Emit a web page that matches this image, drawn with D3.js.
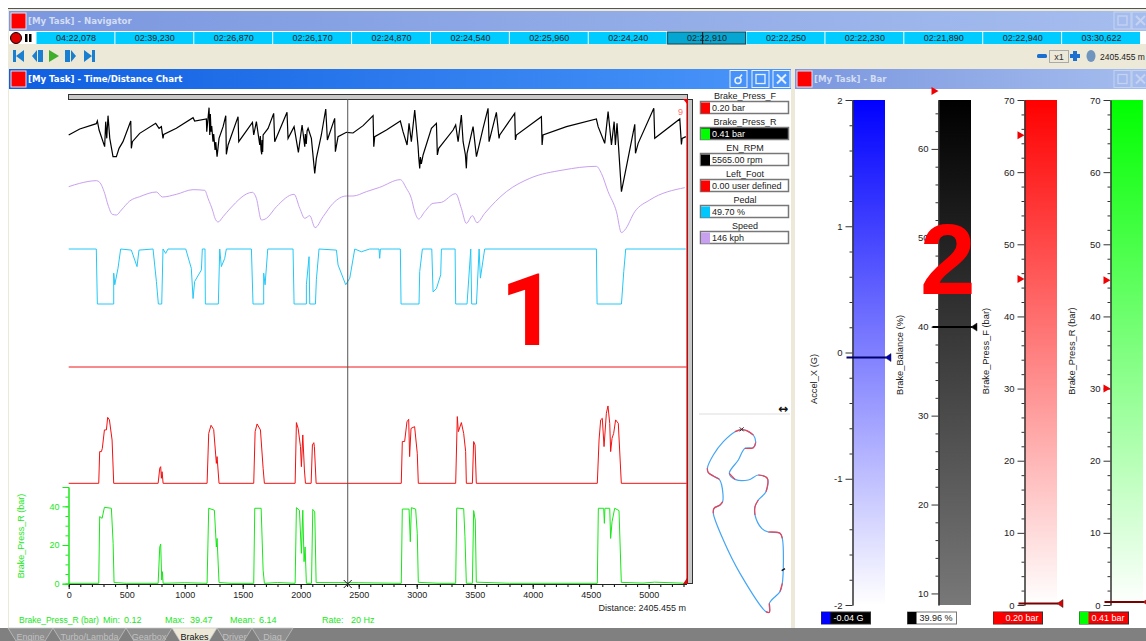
<!DOCTYPE html>
<html>
<head>
<meta charset="utf-8">
<title>Time/Distance Chart</title>
<script src="https://cdn.jsdelivr.net/npm/d3@7/dist/d3.min.js"></script>
<style>
html, body { margin: 0; padding: 0; background: #fff; overflow: hidden; }
text { font-family: "Liberation Sans", Arial, sans-serif; }
</style>
</head>
<body>
<div id="canvas"></div>
<script>
"use strict"

let drawingWidth = 1146;
let drawingHeight = 641;

/* Values: [distance m, channel value] */
let rpmTrace = [[0,5450],[95,5750],[238,6017],[247,6150],[262,5700],[310,4866],[319,6117],[328,5283],[339,6417],[354,5283],[382,4366],[411,4366],[434,4783],[468,5116],[535,6150],[540,4783],[549,5116],[612,5533],[750,6033],[779,5783],[799,5867],[813,5283],[819,5483],[928,5783],[1072,6317],[1086,6150],[1187,6250],[1190,5617],[1210,6817],[1216,5450],[1221,6500],[1227,5617],[1233,5900],[1244,5116],[1250,5500],[1262,4700],[1268,5100],[1279,4366],[1296,5283],[1331,5867],[1354,6417],[1359,4483],[1374,4950],[1460,6367],[1466,5116],[1584,6083],[1595,5450],[1618,6117],[1647,4950],[1652,5400],[1658,4700],[1664,4483],[1667,5200],[1672,4600],[1676,5450],[1719,5783],[1767,6533],[1776,5116],[1882,6583],[1891,5283],[1943,5867],[1980,4583],[2012,5950],[2035,4866],[2040,5500],[2048,5000],[2055,5650],[2064,5783],[2092,5283],[2121,3533],[2135,4283],[2178,5450],[2216,6750],[2230,5200],[2293,6283],[2299,4616],[2322,5367],[2394,5583],[2451,5550],[2538,5917],[2624,6417],[2630,4866],[2638,5367],[2739,5700],[2859,6150],[2882,5617],[2917,4950],[2934,6033],[2954,5116],[2983,6700],[3012,4866],[3018,4300],[3026,3783],[3032,4350],[3040,4000],[3055,4450],[3127,5783],[3170,6033],[3178,4450],[3190,4783],[3314,5700],[3336,5950],[3357,5116],[3385,6450],[3400,5116],[3420,4450],[3428,3783],[3434,4533],[3486,5867],[3515,4366],[3572,5783],[3615,6783],[3624,5116],[3687,6583],[3710,5283],[3716,5450],[3845,6533],[3851,5200],[3860,5450],[4075,6367],[4081,4950],[4089,5450],[4291,5867],[4549,6250],[4564,5867],[4621,5033],[4650,6617],[4679,4950],[4702,6117],[4713,4950],[4727,6033],[4765,2617],[4808,3866],[4880,5983],[4886,4533],[4909,5033],[5044,6783],[5052,5283],[5268,6250],[5282,4983],[5288,5283],[5320,5367]];

let speedTrace = [[0,160],[95,165],[238,169],[267,166.5],[310,150],[339,132.5],[376,118.5],[411,117.5],[454,125],[526,138.5],[612,145],[756,152],[808,144.5],[928,148.5],[1072,155.5],[1173,154.5],[1201,142.5],[1244,122.5],[1259,113.5],[1288,107],[1331,115],[1388,126.5],[1584,151.5],[1618,142.5],[1661,110],[1704,112.5],[1791,130],[1943,148.5],[1992,127.5],[2035,112.5],[2078,116.5],[2124,98.5],[2193,115],[2279,135],[2394,146],[2451,146],[2566,152.5],[2681,159],[2859,170.5],[2911,157.5],[2954,142.5],[2983,122.5],[3017,111.5],[3069,122.5],[3141,135],[3213,136.5],[3336,149.5],[3385,127.5],[3428,105],[3480,116.5],[3520,106],[3586,120],[3773,152.5],[3975,172.5],[4262,185],[4549,190.5],[4592,180],[4650,152.5],[4722,122.5],[4765,91],[4794,95],[4880,122.5],[5009,140],[5311,158.5]];

let pedalTrace = [[0,100],[238,100],[247,0],[388,0],[388,56],[397,35],[425,65],[448,100],[540,98],[589,68],[606,98],[727,100],[756,41],[773,0],[802,0],[813,100],[836,92],[856,100],[1009,100],[1057,65],[1072,10],[1086,41],[1144,62],[1152,100],[1175,100],[1178,0],[1290,0],[1302,100],[1316,68],[1345,83],[1359,100],[1575,100],[1589,0],[1681,0],[1681,56],[1693,35],[1716,100],[1934,100],[1943,0],[2049,0],[2049,35],[2072,86],[2078,0],[2127,0],[2135,44],[2158,100],[2308,98],[2322,71],[2388,35],[2423,47],[2466,100],[2523,95],[2595,100],[2675,100],[2681,83],[2687,100],[2859,100],[2865,0],[3020,0],[3026,59],[3049,100],[3130,100],[3141,22],[3170,28],[3207,53],[3213,100],[3331,100],[3336,0],[3434,0],[3466,100],[3474,0],[3515,0],[3538,100],[3549,47],[3586,100],[4549,100],[4555,0],[4765,0],[4785,59],[4802,100],[5320,100]];

let footTrace = [[0,0],[5327,0]];

let frontTrace = [[0,0.2],[259,0.2],[267,16.6],[282,16.6],[290,18.3],[308,27.8],[325,27.8],[336,34.3],[351,33],[374,22.6],[388,0.2],[771,0.2],[785,8],[793,8.8],[799,2.8],[805,6.2],[814,0.2],[1193,0.2],[1207,26],[1227,30.2],[1250,28],[1273,10.5],[1279,14],[1296,0.2],[1595,0.2],[1607,26.9],[1624,30.9],[1653,27.8],[1676,8],[1687,0.2],[1952,0.2],[1963,31.6],[1978,28.6],[1998,19.2],[2006,8.8],[2018,25.2],[2032,7.1],[2041,0.2],[2090,0.2],[2101,20],[2113,21.2],[2118,19.2],[2133,0.2],[2867,0.2],[2876,21.8],[2896,21.8],[2916,32],[2931,33.3],[2939,14],[2951,28.6],[2982,29.5],[3005,15.7],[3014,0.2],[3336,0.2],[3350,34.7],[3359,26.9],[3385,31.6],[3405,26],[3422,16.6],[3428,0.2],[3480,0.2],[3491,21.8],[3503,20],[3514,0.2],[4557,0.2],[4572,22.6],[4586,33],[4600,33.8],[4615,19.2],[4635,36.4],[4649,40.2],[4664,31.2],[4672,16.6],[4684,23.5],[4698,26],[4715,33],[4738,31.2],[4764,0.2],[5327,0.2]];

let rearTrace = [[0,0.2],[259,0.2],[267,34.7],[288,33.8],[308,39.5],[368,39],[383,20.9],[391,0.6],[500,0.2],[771,0.2],[785,19],[793,20.5],[802,1.9],[808,6.2],[814,0.2],[1000,0.5],[1193,0.2],[1207,39],[1256,38],[1273,19],[1279,23.4],[1296,0.6],[1400,0.2],[1595,0.2],[1604,39],[1659,39],[1676,7],[1687,0.2],[1800,0.6],[1952,0.2],[1963,39.3],[1989,38],[2006,15.7],[2018,38],[2029,11.4],[2038,19],[2049,0.2],[2093,0.2],[2104,38.4],[2121,37.2],[2133,0.6],[2500,0.5],[2867,0.2],[2876,38.6],[2934,38.6],[2945,21.7],[2954,39.3],[2991,38.6],[3005,26],[3014,0.7],[3200,0.2],[3336,0.2],[3345,39.1],[3405,38.8],[3416,24.3],[3428,0.2],[3480,0.2],[3491,37.8],[3505,32.9],[3514,0.8],[3800,0.2],[4557,0.2],[4566,39],[4612,39],[4618,31.2],[4623,39],[4664,39],[4672,23.4],[4684,32],[4707,39],[4744,37.8],[4764,0.7],[4950,0.3],[5050,0.8],[5327,0.2]];

/* legend rows */
let legendNames = ["Brake_Press_F", "Brake_Press_R", "EN_RPM", "Left_Foot", "Pedal", "Speed"];
let legendValues = ["0.20 bar", "0.41 bar", "5565.00 rpm", "0.00 user defined", "49.70 %", "146 kph"];
let legendColors = ["#ff0000", "#00ff00", "#000000", "#ff0000", "#00c8ff", "#c8a0f0"];

/* navigator lap times */
let lapTimes = ["04:22,078", "02:39,230", "02:26,870", "02:26,170", "02:24,870", "02:24,540", "02:25,960", "02:24,240", "02:22,910", "02:22,250", "02:22,230", "02:21,890", "02:22,940", "03:30,622"];
let activeLap = 8;

/* track map: x, y in map units, brake flag from point to next point */
let trackX = [155,135,100,70,52,55,70,88,95,98,90,72,70,100,150,228,238,238,245,270,277,277,270,235,215,195,195,205,228,232,205,175,135,118,145,165,190,197,190,170,155];
let trackY = [88,95,125,165,205,218,228,238,255,305,315,325,340,420,520,635,637,610,600,575,550,415,400,396,385,345,320,300,275,235,225,240,238,220,180,145,143,128,105,92,88];
let trackBrake = [1,0,0,0,1,1,1,0,0,1,1,1,0,0,0,1,1,0,0,1,0,1,1,0,0,1,1,0,1,1,0,0,1,0,0,1,1,0,1,1];

/* bar panel */
let barNames = ["Accel_X (G)", "Brake_Balance (%)", "Brake_Press_F (bar)", "Brake_Press_R (bar)"];
let barValues = [-0.04, 39.96, 0.20, 0.41];
let barLabels = ["-0.04 G", "39.96 %", "0.20 bar", "0.41 bar"];
let barColors = ["#0000ff", "#000000", "#ff0000", "#00ff00"];
let barEndColors = ["#ffffff", "#787878", "#ffffff", "#ffffff"];
let barMins = [-2, 8.7, 0, 0];
let barMaxs = [2, 65.5, 70, 70];
let barMajorTicks = [[-2,-1,0,1,2], [10,20,30,40,50,60], [0,10,20,30,40,50,60,70], [0,10,20,30,40,50,60,70]];
let barMinorTicks = [
    [-1.8,-1.6,-1.4,-1.2,-0.8,-0.6,-0.4,-0.2,0.2,0.4,0.6,0.8,1.2,1.4,1.6,1.8],
    [12,14,16,18,22,24,26,28,32,34,36,38,42,44,46,48,52,54,56,58,62,64],
    [2,4,6,8,12,14,16,18,22,24,26,28,32,34,36,38,42,44,46,48,52,54,56,58,62,64,66,68],
    [2,4,6,8,12,14,16,18,22,24,26,28,32,34,36,38,42,44,46,48,52,54,56,58,62,64,66,68]
];
let barLimitMarks = [[], [66.5], [65.1, 45.2], [45, 30]];
let barTitleCenters = [379, 355, 351, 351];

let tabNames = ["Engine", "Turbo/Lambda", "Gearbox", "Brakes", "Driver", "Diag"];
let tabStart = [8, 53, 126, 172, 217, 252];
let tabEnd = [53, 126, 172, 217, 252, 293];
let activeTab = 3;

/* Scales */
let distanceScale = d3.scaleLinear().domain([0, 5000]).range([68.7, 648.7]);
let rpmScale = d3.scaleLinear().domain([2500, 7000]).range([194, 104]);
let speedScale = d3.scaleLinear().domain([80, 200]).range([240, 160]);
let pedalScale = d3.scaleLinear().domain([0, 100]).range([304, 249]);
let footScale = d3.scaleLinear().domain([0, 1]).range([367, 347]);
let frontScale = d3.scaleLinear().domain([0, 50]).range([483.7, 387]);
let rearScale = d3.scaleLinear().domain([0, 50]).range([583.7, 487]);

let drawing = d3.select("#canvas")
    .append("svg")
    .attr("width", drawingWidth)
    .attr("height", drawingHeight)
    .style("display", "block");

let defs = drawing.append("defs");

function addGradient(id, x2, y2, from, to) {
    let gradient = defs.append("linearGradient").attr("id", id)
        .attr("x1", 0).attr("y1", 0).attr("x2", x2).attr("y2", y2);
    gradient.append("stop").attr("offset", "0%").attr("stop-color", from);
    gradient.append("stop").attr("offset", "100%").attr("stop-color", to);
}

addGradient("titleActive", 1, 0, "#0f5ee0", "#4a96fa");
addGradient("titleIdle", 1, 0, "#7b97df", "#a5bdee");
barColors.forEach((c, i) => addGradient("bar" + i, 0, 1, c, barEndColors[i]));

/* window background */
drawing.append("rect").attr("width", drawingWidth).attr("height", drawingHeight).attr("fill", "#ffffff");
drawing.append("rect").attr("x", 8).attr("y", 9).attr("width", 1138).attr("height", 619).attr("fill", "#ece9d8");
drawing.append("line").attr("x1", 8).attr("x2", 1146).attr("y1", 8.5).attr("y2", 8.5).attr("stroke", "#555");

function titleBar(x, width, y, fillId, label, textColor) {
    drawing.append("rect").attr("x", x).attr("y", y).attr("width", width).attr("height", 20).attr("fill", "url(#" + fillId + ")");
    drawing.append("rect").attr("x", x + 2).attr("y", y + 2).attr("width", 15).attr("height", 16)
        .attr("fill", "#ff0000").attr("stroke", "#dfe6f5");
    drawing.append("text").attr("x", x + 19).attr("y", y + 13).text(label)
        .attr("fill", textColor).attr("font-size", 8.6).attr("font-weight", "bold")
        .style("font-family", "'DejaVu Sans', sans-serif");
}

function windowButton(x, y, color, kind) {
    drawing.append("rect").attr("x", x).attr("y", y).attr("width", 17).attr("height", 17)
        .attr("fill", "none").attr("stroke", color);
    if (kind == "max") {
        drawing.append("rect").attr("x", x + 4).attr("y", y + 4).attr("width", 9).attr("height", 9)
            .attr("fill", "none").attr("stroke", color).attr("stroke-width", 1.3);
    } else if (kind == "close") {
        drawing.append("path").attr("d", `M${x + 4},${y + 4}L${x + 13},${y + 13}M${x + 13},${y + 4}L${x + 4},${y + 13}`)
            .attr("stroke", color).attr("stroke-width", 2);
    } else {
        drawing.append("circle").attr("cx", x + 8).attr("cy", y + 10).attr("r", 3)
            .attr("fill", "none").attr("stroke", color).attr("stroke-width", 1.5);
        drawing.append("path").attr("d", `M${x + 9},${y + 8}L${x + 12},${y + 4}`)
            .attr("stroke", color).attr("stroke-width", 1.5);
    }
}

/* Navigator */
titleBar(9, 1137, 11, "titleIdle", "[My Task] - Navigator", "#d3ddf3");
windowButton(1114, 12, "#c6d3f0", "max");
windowButton(1132, 12, "#c6d3f0", "close");

drawing.append("rect").attr("x", 9).attr("y", 31).attr("width", 1137).attr("height", 13).attr("fill", "#ffffff");
drawing.append("circle").attr("cx", 16).attr("cy", 38).attr("r", 5.5).attr("fill", "#e00000").attr("stroke", "#000");
drawing.append("rect").attr("x", 25).attr("y", 34).attr("width", 2.5).attr("height", 8).attr("fill", "#000");
drawing.append("rect").attr("x", 29).attr("y", 34).attr("width", 2.5).attr("height", 8).attr("fill", "#000");

let lapScale = d3.scaleBand().domain(d3.range(lapTimes.length)).range([36.5, 1141]);

drawing.selectAll(".lap").data(lapTimes).enter().append("rect")
    .attr("x", (d, i) => lapScale(i))
    .attr("y", 32)
    .attr("width", lapScale.bandwidth() - 1)
    .attr("height", 12)
    .attr("fill", (d, i) => i == activeLap ? "#06a6d2" : "#00ccff")
    .attr("stroke", (d, i) => i == activeLap ? "#17444f" : "none");

drawing.selectAll(".lapText").data(lapTimes).enter().append("text")
    .attr("x", (d, i) => lapScale(i) + lapScale.bandwidth() / 2)
    .attr("y", 41)
    .attr("text-anchor", "middle")
    .attr("font-size", 9)
    .attr("fill", "#222")
    .text(d => d);

drawing.append("line")
    .attr("x1", lapScale(activeLap) + 35).attr("x2", lapScale(activeLap) + 35)
    .attr("y1", 32).attr("y2", 44).attr("stroke", "#111");

/* transport buttons */
let toolY = 56;
let transport = drawing.append("g").attr("fill", "#1a7fd0");
transport.append("path").attr("d", `M13,${toolY - 6}h3v12h-3zM24,${toolY - 6}v12l-8,-6z`);
transport.append("path").attr("d", `M32,${toolY}l5,-6v12zM38,${toolY - 6}h5v12h-5z`);
drawing.append("path").attr("d", `M49,${toolY - 6}v12l10,-6z`).attr("fill", "#3fae2a");
transport.append("path").attr("d", `M65,${toolY - 6}h5v12h-5zM71,${toolY - 6}l5,6l-5,6z`);
transport.append("path").attr("d", `M84,${toolY - 6}l8,6l-8,6zM92,${toolY - 6}h3v12h-3z`);

drawing.append("rect").attr("x", 1037).attr("y", toolY - 2).attr("width", 10).attr("height", 4).attr("rx", 1.5).attr("fill", "#1a6fd0");
drawing.append("rect").attr("x", 1049.5).attr("y", toolY - 5.5).attr("width", 19).attr("height", 12).attr("fill", "#ece9d8").attr("stroke", "#aaa");
drawing.append("text").attr("x", 1059).attr("y", toolY + 4).attr("text-anchor", "middle").attr("font-size", 9).attr("fill", "#333").text("x1");
drawing.append("path").attr("d", `M1070,${toolY - 2}h3v-3h4v3h3v4h-3v3h-4v-3h-3z`).attr("fill", "#1a6fd0");
drawing.append("ellipse").attr("cx", 1091).attr("cy", toolY).attr("rx", 4.5).attr("ry", 6).attr("fill", "#6f94bd");
drawing.append("text").attr("x", 1100).attr("y", toolY + 3.5).attr("font-size", 8.5).attr("fill", "#222").text("2405.455 m");

/* Time/Distance panel */
titleBar(9, 782, 69, "titleActive", "[My Task] - Time/Distance Chart", "#ffffff");
windowButton(730, 70.5, "#e8f0ff", "lock");
windowButton(752, 70.5, "#e8f0ff", "max");
windowButton(773, 70.5, "#e8f0ff", "close");
drawing.append("rect").attr("x", 9).attr("y", 89).attr("width", 782).attr("height", 539).attr("fill", "#ffffff");

/* scroll strips */
drawing.append("rect").attr("x", 68.5).attr("y", 94.5).attr("width", 619).attr("height", 5).attr("fill", "#c8c8c8").attr("stroke", "#333");
drawing.append("rect").attr("x", 687.5).attr("y", 99.5).attr("width", 5).attr("height", 484).attr("fill", "#c8c8c8").attr("stroke", "#333");

function tracePath(points, yScale, curve) {
    return d3.line().x(d => distanceScale(d[0])).y(d => yScale(d[1])).curve(curve)(points);
}

let traces = [
    [rpmTrace, rpmScale, "#000000", 1.2, d3.curveLinear],
    [speedTrace, speedScale, "#c8a0f0", 1, d3.curveMonotoneX],
    [pedalTrace, pedalScale, "#22c8f8", 1, d3.curveLinear],
    [footTrace, footScale, "#f01818", 1, d3.curveLinear],
    [frontTrace, frontScale, "#f41010", 1, d3.curveLinear],
    [rearTrace, rearScale, "#18e818", 1, d3.curveLinear]
];

traces.forEach(t => {
    drawing.append("path")
        .attr("d", tracePath(t[0], t[1], t[4]))
        .attr("fill", "none")
        .attr("stroke", t[2])
        .attr("stroke-width", t[3]);
});

/* lap end marker */
drawing.append("line").attr("x1", 687).attr("x2", 687).attr("y1", 100).attr("y2", 584).attr("stroke", "#f00000").attr("stroke-width", 1.2);
drawing.append("path").attr("d", "M683,99h5v6z").attr("fill", "#f00000");
drawing.append("path").attr("d", "M683,584l4,-6v6z").attr("fill", "#d01010");
drawing.append("text").attr("x", 678).attr("y", 115).attr("font-size", 9).attr("fill", "#ff7070").text("9");

/* distance cursor */
let cursorX = distanceScale(2405.455);
drawing.append("line").attr("x1", cursorX).attr("x2", cursorX).attr("y1", 99).attr("y2", 584).attr("stroke", "#555");
drawing.append("path").attr("d", `M${cursorX - 4},580L${cursorX + 4},588M${cursorX + 4},580L${cursorX - 4},588`).attr("stroke", "#222");

/* x axis */
let xAxisMinor = d3.axisBottom(distanceScale).tickValues(d3.range(0, 5400, 100)).tickSize(3).tickFormat("");
let xAxisMajor = d3.axisBottom(distanceScale).tickValues(d3.range(0, 5500, 500)).tickSize(5).tickPadding(3).tickFormat(d => String(d));
let xAxisRange = d3.scaleLinear().domain([0, 5327]).range([68.7, 687]);

drawing.append("g").attr("transform", "translate(0,584)").call(xAxisMinor).call(g => g.select(".domain").remove());
let xAxisGroup = drawing.append("g").attr("transform", "translate(0,584)").call(xAxisMajor);
xAxisGroup.select(".domain").remove();
xAxisGroup.selectAll("text").attr("font-size", 9).attr("fill", "#222").style("font-family", "'Liberation Sans'");
drawing.append("line").attr("x1", xAxisRange(0)).attr("x2", xAxisRange(5327)).attr("y1", 584.5).attr("y2", 584.5).attr("stroke", "#222");

/* rear pressure y axis */
let yAxisMinor = d3.axisLeft(rearScale).tickValues(d3.range(0, 55, 5)).tickSize(3).tickFormat("");
let yAxisMajor = d3.axisLeft(rearScale).tickValues([0, 20, 40]).tickSize(6).tickPadding(3);
drawing.append("g").attr("transform", "translate(68.5,0)").call(yAxisMinor).attr("color", "#18e818");
let yAxisGroup = drawing.append("g").attr("transform", "translate(68.5,0)").call(yAxisMajor).attr("color", "#18e818");
yAxisGroup.selectAll("text").attr("font-size", 9).style("font-family", "'Liberation Sans'");

drawing.append("text")
    .attr("transform", "translate(24,536) rotate(-90)")
    .attr("text-anchor", "middle")
    .attr("font-size", 9)
    .attr("fill", "#18e818")
    .text("Brake_Press_R (bar)");

/* stats line */
let statY = 623;
let statText = [[19, "Brake_Press_R (bar)", 8.5], [103, "Min:", 9], [124, "0.12", 9], [165, "Max:", 9], [190, "39.47", 9], [230, "Mean:", 9], [259, "6.14", 9], [322, "Rate:", 9], [351, "20 Hz", 9]];
drawing.selectAll(".stat").data(statText).enter().append("text")
    .attr("x", d => d[0]).attr("y", statY)
    .attr("font-size", d => d[2]).attr("fill", "#18e818")
    .text(d => d[1]);

drawing.append("text").attr("x", 686).attr("y", 611).attr("text-anchor", "end").attr("font-size", 9).attr("fill", "#222").text("Distance: 2405.455 m");

/* legend */
let legendRow = d3.scaleLinear().domain([0, 1]).range([0, 26]);
legendNames.forEach((name, i) => {
    let top = 101.5 + legendRow(i);
    drawing.append("text").attr("x", 745).attr("y", top - 3).attr("text-anchor", "middle").attr("font-size", 9).attr("fill", "#222").text(name);
    drawing.append("rect").attr("x", 700.5).attr("y", top).attr("width", 88).attr("height", 12)
        .attr("fill", i == 1 ? "#000" : "#fff").attr("stroke", "#777").attr("stroke-width", 1.5);
    drawing.append("rect").attr("x", 701).attr("y", top + 1).attr("width", 9).attr("height", 11).attr("fill", legendColors[i]);
    drawing.append("text").attr("x", 712).attr("y", top + 9.5).attr("font-size", 9)
        .attr("fill", i == 1 ? "#fff" : "#222").text(legendValues[i]);
});

/* track map */
drawing.append("line").attr("x1", 699).attr("x2", 790).attr("y1", 414).attr("y2", 414).attr("stroke", "#ddd");
drawing.append("text").attr("x", 783).attr("y", 413).attr("text-anchor", "middle").attr("font-size", 12).attr("font-weight", "bold").attr("fill", "#111").style("font-family", "'DejaVu Sans'").text("↔");

let trackScaleX = d3.scaleLinear().domain([0, 330]).range([690, 800]);
let trackScaleY = d3.scaleLinear().domain([0, 690]).range([400, 630]);
let trackLine = d3.line().x(i => trackScaleX(trackX[i])).y(i => trackScaleY(trackY[i])).curve(d3.curveCatmullRom);

drawing.append("path")
    .attr("d", trackLine(d3.range(trackX.length)))
    .attr("fill", "none")
    .attr("stroke", "#45a5f5")
    .attr("stroke-width", 1.2);

/* braking parts go over the blue line, one path per run of flagged points */
let brakeRun = [];
trackBrake.forEach((flag, i) => {
    if (flag) {
        brakeRun.push(i);
    }
    if ((!flag || i == trackBrake.length - 1) && brakeRun.length) {
        brakeRun.push(brakeRun[brakeRun.length - 1] + 1);
        drawing.append("path")
            .attr("d", trackLine(brakeRun))
            .attr("fill", "none")
            .attr("stroke", "#f04050")
            .attr("stroke-width", 1.2);
        brakeRun = [];
    }
});
drawing.append("path").attr("d", `M${trackScaleX(155) - 2},${trackScaleY(88) - 2}l4,4m0,-4l-4,4`).attr("stroke", "#333");
drawing.append("line").attr("x1", trackScaleX(275)).attr("x2", trackScaleX(285)).attr("y1", trackScaleY(512)).attr("y2", trackScaleY(506)).attr("stroke", "#111").attr("stroke-width", 1.4);

/* Bar panel */
titleBar(795, 351, 69, "titleIdle", "[My Task] - Bar", "#d3ddf3");
windowButton(1114, 70.5, "#c6d3f0", "max");
windowButton(1132, 70.5, "#c6d3f0", "close");
drawing.append("rect").attr("x", 795).attr("y", 89).attr("width", 351).attr("height", 539).attr("fill", "#ffffff");

let barSlot = d3.scaleLinear().domain([0, 1]).range([852.5, 938.5]);
let barWidth = 32.5;

barNames.forEach((name, i) => {
    let x = barSlot(i);
    let scale = d3.scaleLinear().domain([barMins[i], barMaxs[i]]).range([605, 100]);

    drawing.append("rect").attr("x", x).attr("y", 100).attr("width", barWidth).attr("height", 505).attr("fill", "url(#bar" + i + ")");

    let minorAxis = d3.axisLeft(scale).tickValues(barMinorTicks[i]).tickSize(3).tickFormat("").tickSizeOuter(0);
    let majorAxis = d3.axisLeft(scale).tickValues(barMajorTicks[i]).tickSize(7).tickPadding(3).tickSizeOuter(0).tickFormat(d => String(d));

    drawing.append("g").attr("transform", `translate(${x},0)`).call(minorAxis).attr("color", "#333");
    let major = drawing.append("g").attr("transform", `translate(${x},0)`).call(majorAxis).attr("color", "#333");
    major.selectAll("text").attr("font-size", 9.5).attr("fill", "#222").style("font-family", "'Liberation Sans'");

    drawing.append("text")
        .attr("transform", `translate(${x - 36},${barTitleCenters[i]}) rotate(-90)`)
        .attr("text-anchor", "middle")
        .attr("font-size", 9.3)
        .attr("fill", "#222")
        .text(name);

    barLimitMarks[i].forEach(v => {
        drawing.append("path")
            .attr("d", `M${x - 7},${scale(v) - 4}L${x},${scale(v)}L${x - 7},${scale(v) + 4}z`)
            .attr("fill", "#f00000");
    });

    /* current value pointer */
    let py = scale(barValues[i]);
    drawing.append("line").attr("x1", x - 6).attr("x2", x + barWidth + 1).attr("y1", py).attr("y2", py)
        .attr("stroke", i == 0 ? "#00006e" : i == 1 ? "#000" : "#7a0000").attr("stroke-width", 2);
    drawing.append("path")
        .attr("d", `M${x + barWidth},${py}L${x + barWidth + 6},${py - 4}V${py + 4}z`)
        .attr("fill", i == 0 ? "#0000c0" : i == 1 ? "#000" : "#e00000").attr("stroke", "#222").attr("stroke-width", 0.5);

    /* value box under the bar */
    let boxX = x - 31;
    let boxFill = i == 0 ? "#000" : i == 1 ? "#fff" : "#ff0000";
    drawing.append("rect").attr("x", boxX).attr("y", 612).attr("width", 49).attr("height", 12).attr("fill", boxFill).attr("stroke", i == 1 ? "#777" : "#333");
    drawing.append("rect").attr("x", boxX).attr("y", 612).attr("width", 9).attr("height", 12).attr("fill", barColors[i]);
    drawing.append("text").attr("x", boxX + 12).attr("y", 621).attr("font-size", 9)
        .attr("fill", i == 1 ? "#222" : "#fff").text(barLabels[i]);
});

/* Big annotation numbers */
drawing.append("text").attr("x", 500).attr("y", 345).attr("font-size", 100).attr("font-weight", "bold").attr("fill", "#ff0000").style("font-family", "Roboto").text("1");
drawing.append("text").attr("x", 920).attr("y", 294).attr("font-size", 100).attr("font-weight", "bold").attr("fill", "#ff0000").text("2");

/* Tab strip */
drawing.append("rect").attr("x", 0).attr("y", 628).attr("width", drawingWidth).attr("height", 13).attr("fill", "#808080");
tabNames.forEach((name, i) => {
    let isActive = i == activeTab;
    drawing.append("path")
        .attr("d", `M${tabStart[i]},628L${tabStart[i] + 8},641H${tabEnd[i] - 8}L${tabEnd[i]},628z`)
        .attr("fill", isActive ? "#ece9d8" : "#8e8e8e")
        .attr("stroke", "#c8c8c8")
        .attr("stroke-width", 0.7);
    drawing.append("text").attr("x", (tabStart[i] + tabEnd[i]) / 2).attr("y", 640)
        .attr("text-anchor", "middle").attr("font-size", 9)
        .attr("fill", isActive ? "#111" : "#c0c0c0").text(name);
});
</script>
</body>
</html>
